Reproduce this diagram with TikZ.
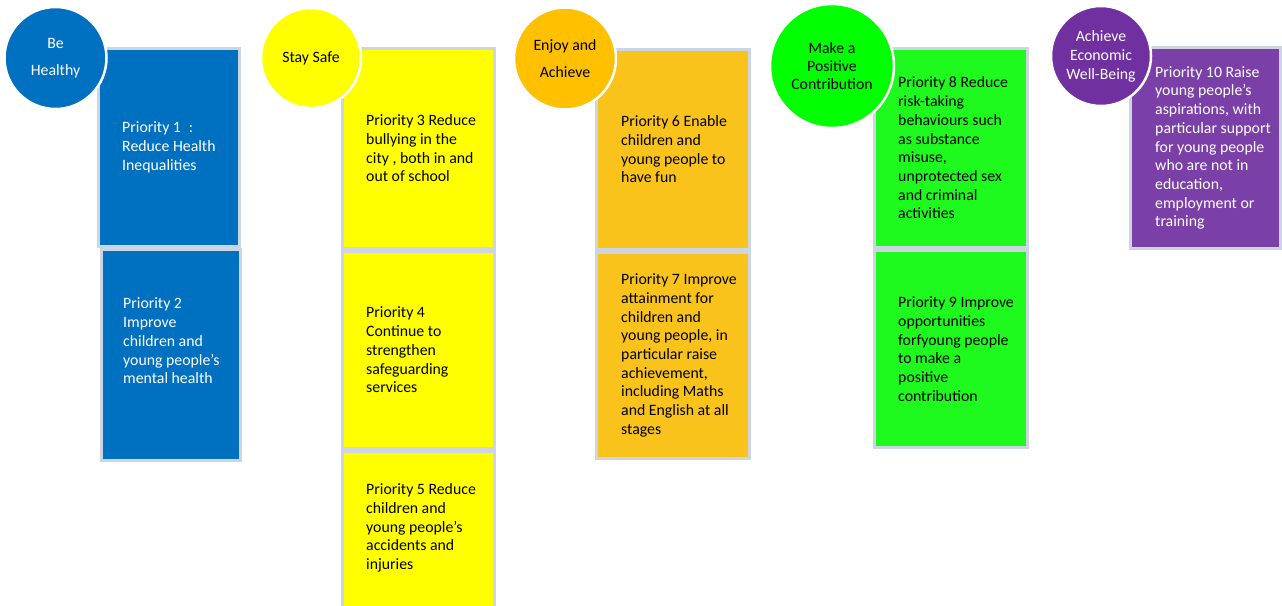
\documentclass[tikz,border=0pt]{standalone}
\usepackage{fontspec}
\setmainfont{Carlito}
\definecolor{cblue}{HTML}{0070C0}
\definecolor{cyellow}{HTML}{FFFF00}
\definecolor{camber}{HTML}{FFC000}
\definecolor{camberbox}{HTML}{F9C31C}
\definecolor{cgreen}{HTML}{00FF00}
\definecolor{cgreenbox}{HTML}{1EFA1E}
\definecolor{cpurple}{HTML}{7030A0}
\definecolor{cpurplebox}{HTML}{7B40A8}
\definecolor{boxline}{HTML}{CDD5E2}
\newcommand{\boxfont}{\fontsize{15.8}{18.7}\selectfont}
\begin{document}
\begin{tikzpicture}[x=1pt,y=-1pt,
  pbox/.style={draw=boxline, line width=3pt, rectangle, inner sep=0pt, outer sep=0pt, anchor=north west},
  txt/.style={align=left, inner sep=0pt, anchor=west, font=\boxfont},
  disc/.style={circle, draw=white, line width=2.5pt, inner sep=0pt, outer sep=0pt, align=center}]
\useasboundingbox (0,0) rectangle (1282,605);
% Be Healthy
\node[pbox, fill=cblue, minimum width=141, minimum height=198] (b1) at (98.5,48.5) {};
\node[pbox, fill=cblue, minimum width=139, minimum height=211] (b2) at (101.5,249.5) {};
% Stay Safe
\node[pbox, fill=cyellow, minimum width=152, minimum height=200] (b3) at (342.5,48.5) {};
\node[pbox, fill=cyellow, minimum width=152, minimum height=197] (b4) at (342.5,251.5) {};
\node[pbox, fill=cyellow, minimum width=152, minimum height=157] (b5) at (342.5,451.5) {};
% Enjoy and Achieve
\node[pbox, fill=camberbox, minimum width=153, minimum height=200] (b6) at (596.5,49.5) {};
\node[pbox, fill=camberbox, minimum width=153, minimum height=206] (b7) at (596.5,252.5) {};
% Make a Positive Contribution
\node[pbox, fill=cgreenbox, minimum width=153, minimum height=199] (b8) at (874.5,48.5) {};
\node[pbox, fill=cgreenbox, minimum width=153, minimum height=197] (b9) at (874.5,250.5) {};
% Achieve Economic Well-Being
\node[pbox, fill=cpurplebox, minimum width=150, minimum height=201] (b10) at (1130.5,47.5) {};

% texts
\node[txt, text=white] (t1) at ([xshift=23.5]b1.west) {Priority 1\enspace:\\Reduce Health\\Inequalities};
\node[txt, text=white] (t2) at ([xshift=21.5,yshift=14]b2.west) {Priority 2\\Improve\\children and\\young people’s\\mental health};
\node[txt, text=black] (t3) at ([xshift=23.5]b3.west) {Priority 3 Reduce\\bullying in the\\city , both in and\\out of school};
\node[txt, text=black] (t4) at ([xshift=23.5]b4.west) {Priority 4\\Continue to\\strengthen\\safeguarding\\services};
\node[txt, text=black] (t5) at ([xshift=23.5,yshift=2]b5.west) {Priority 5 Reduce\\children and\\young people’s\\accidents and\\injuries};
\node[txt, text=black] (t6) at ([xshift=24.5]b6.west) {Priority 6 Enable\\children and\\young people to\\have fun};
\node[txt, text=black] (t7) at ([xshift=24.5]b7.west) {Priority 7 Improve\\attainment for\\children and\\young people, in\\particular raise\\achievement,\\including Maths\\and English at all\\stages};
\node[txt, text=black] (t8) at ([xshift=23.5]b8.west) {Priority 8 Reduce\\risk-taking\\behaviours such\\as substance\\misuse,\\unprotected sex\\and criminal\\activities};
\node[txt, text=black] (t9) at ([xshift=23.5]b9.west) {Priority 9 Improve\\opportunities\\forfyoung people\\to make a\\positive\\contribution};
\node[txt, text=white] (t10) at ([xshift=24.5]b10.west) {Priority 10 Raise\\young people’s\\aspirations, with\\particular support\\for young people\\who are not in\\education,\\employment or\\training};

% circles
\node[disc, fill=cblue, text=white, minimum size=102, font=\fontsize{15.8}{27}\selectfont] (c1) at (55.5,58) {Be\\Healthy};
\node[disc, fill=cyellow, text=black, minimum size=100, font=\fontsize{15.8}{18.7}\selectfont] (c2) at (311,58) {Stay Safe};
\node[disc, fill=camber, text=black, minimum size=102, font=\fontsize{15.8}{27}\selectfont] (c3) at (565,58.5) {Enjoy and\\Achieve};
\node[disc, fill=cgreen, text=black, minimum size=124, font=\fontsize{15.8}{18}\selectfont] (c4) at (832,66) {Make a\\Positive\\Contribution};
\node[disc, fill=cpurple, text=white, minimum size=100, font=\fontsize{15.8}{19}\selectfont] (c5) at (1101,56) {Achieve\\Economic\\Well-Being};
\end{tikzpicture}
\end{document}
